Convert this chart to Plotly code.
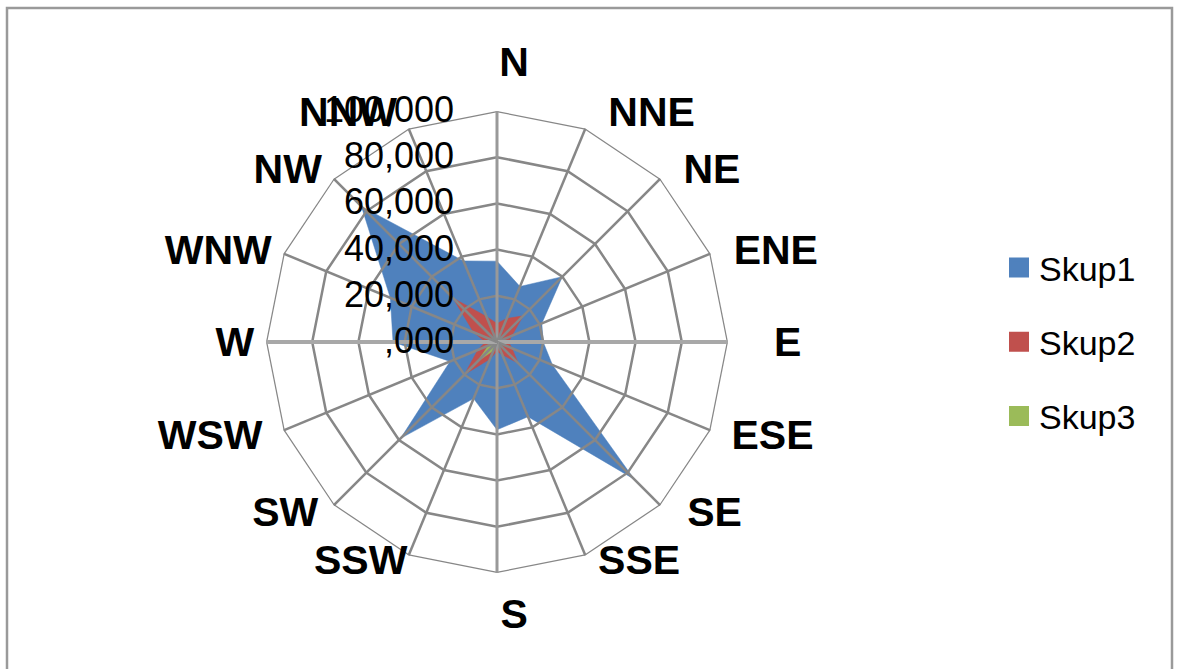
import plotly.graph_objects as go

# Wind directions, clockwise from north
directions = ["N", "NNE", "NE", "ENE", "E", "ESE", "SE", "SSE",
              "S", "SSW", "SW", "WSW", "W", "WNW", "NW", "NNW"]

skup1 = [35000, 26000, 40000, 21000, 20000, 26000, 84000, 35000,
         38000, 26500, 59000, 22000, 45000, 50000, 83000, 38000]
skup2 = [8000, 11000, 16000, 7000, 5000, 7000, 13000, 6000,
         4000, 8000, 20000, 9000, 5000, 11000, 27000, 12000]
skup3 = [1000, 800, 1000, 700, 600, 800, 1500, 800,
         1000, 4000, 12000, 4000, 1000, 800, 1500, 800]

series_names = ["Skup1", "Skup2", "Skup3"]
series_colors = ["#4F81BD", "#C0504D", "#9BBB59"]

ring_levels = [20000, 40000, 60000, 80000, 100000]
radial_tickvals = [0, 20000, 40000, 60000, 80000, 100000]
radial_ticktext = [",000", "20,000", "40,000", "60,000", "80,000", "100,000"]

# direction labels: (radius offset in px, directions), one layer each
label_layers = [
    (0, ["NNE", "NE", "ENE", "E", "W", "WNW", "NW", "NNW"]),
    (26, ["N"]),
    (13, ["S"]),
    (-27, ["ESE", "SE", "SSE", "SSW", "SW", "WSW"]),
]
# non-breaking spaces used to nudge each label sideways
label_pad = {"N": 3, "NNE": 2, "NE": 2, "ENE": 2, "E": 4, "ESE": 4, "SE": 4,
             "SSE": 2, "S": 3, "SSW": 1, "SW": 3, "WSW": 4, "W": 1,
             "WNW": 1, "NW": 1, "NNW": 1}
pad_before = {"N", "NNE", "NE", "ENE", "E", "ESE", "SE", "SSE", "S"}
NB = "\u00a0"


def label_text(d):
    return NB * label_pad[d] + d if d in pad_before else d + NB * label_pad[d]


W, H = 1181, 669
cx, cy, rad = 497, 342, 231
radial_label_lift = 7  # value labels sit a little above their rings

label_font = dict(size=41, family="Liberation Sans", color="black", weight="bold")


def domain_for(radius, dy=0):
    yc = H - cy + dy
    return dict(x=[(cx - radius) / W, (cx + radius) / W],
                y=[(yc - radius) / H, (yc + radius) / H])


closed = directions + directions[:1]

fig = go.Figure()

for name, vals, color in zip(series_names, [skup1, skup2, skup3], series_colors):
    fig.add_trace(go.Scatterpolar(
        r=vals + vals[:1], theta=closed, mode="lines",
        fill="toself", fillcolor=color,
        line=dict(color=color, width=0.5),
        name=name, showlegend=False, hoverinfo="skip",
    ))

grid_color = "#878787"

# polygon rings drawn over the filled areas
for lvl in ring_levels:
    fig.add_trace(go.Scatterpolar(
        r=[lvl] * len(closed), theta=closed, mode="lines",
        line=dict(color=grid_color, width=2.5),
        showlegend=False, hoverinfo="skip",
    ))

# spokes from centre to the outer ring
for d in directions:
    if d in ("E", "W"):
        col, wdt = "#A8A8A8", 4
    elif d in ("N", "S"):
        col, wdt = "#999999", 3
    else:
        col, wdt = grid_color, 2.5
    fig.add_trace(go.Scatterpolar(
        r=[0, ring_levels[-1]], theta=[d, d], mode="lines",
        line=dict(color=col, width=wdt),
        showlegend=False, hoverinfo="skip",
    ))

# legend keys: square swatches for each series
for name, color in zip(series_names, series_colors):
    fig.add_trace(go.Scatterpolar(
        r=[None], theta=[directions[0]], mode="markers",
        marker=dict(symbol="square", size=25, color=color,
                    line=dict(color=color, width=4)),
        name=name, legendgroup=name, showlegend=True, hoverinfo="skip",
    ))


def angular_axis(texts):
    return dict(
        type="category", categoryorder="array", categoryarray=directions,
        tickmode="array", tickvals=directions, ticktext=texts,
        direction="clockwise", rotation=90,
        showgrid=False, showline=False, ticks="",
        tickfont=label_font,
    )


layout_polars = {}
n_layers = 0
for i, (dr, dirs) in enumerate(label_layers):
    key = "polar" if i == 0 else f"polar{i + 1}"
    n_layers += 1
    texts = [label_text(d) if d in dirs else "" for d in directions]
    if i == 0:
        radial = dict(range=[0, 100000], angle=90, showticklabels=False,
                      showgrid=False, showline=False, ticks="")
        bg = "white"
    else:
        radial = dict(range=[0, 100000], angle=90, visible=False)
        bg = "rgba(0,0,0,0)"
        # label-only layer sharing the chart centre
        fig.add_trace(go.Scatterpolar(
            r=[None], theta=[directions[0]], mode="markers",
            subplot=key, showlegend=False, hoverinfo="skip",
        ))
    layout_polars[key] = dict(
        domain=domain_for(rad + dr), gridshape="linear", bgcolor=bg,
        radialaxis=radial, angularaxis=angular_axis(texts),
    )

# value labels of the radial axis
rkey = f"polar{n_layers + 1}"
fig.add_trace(go.Scatterpolar(
    r=[None], theta=[directions[0]], mode="markers",
    subplot=rkey, showlegend=False, hoverinfo="skip",
))
layout_polars[rkey] = dict(
    domain=domain_for(rad, radial_label_lift), gridshape="linear",
    bgcolor="rgba(0,0,0,0)",
    radialaxis=dict(
        range=[0, 100000], angle=90, side="counterclockwise",
        tickmode="array", tickvals=radial_tickvals, ticktext=radial_ticktext,
        showgrid=False, showline=False,
        ticks="outside", ticklen=10, tickcolor="rgba(0,0,0,0)",
        tickfont=dict(size=36, family="Liberation Sans", color="black"),
    ),
    angularaxis=angular_axis([""] * len(directions)),
)

fig.update_layout(
    width=W, height=H,
    margin=dict(l=0, r=0, t=0, b=0),
    paper_bgcolor="white",
    font=dict(family="Liberation Sans", color="black"),
    showlegend=True,
    legend=dict(
        x=999 / W, y=(H - cy) / H, xanchor="left", yanchor="middle",
        font=dict(size=34, family="Liberation Sans", color="black"),
        tracegroupgap=27, traceorder="grouped",
        bgcolor="rgba(0,0,0,0)",
    ),
    shapes=[dict(
        type="rect", xref="paper", yref="paper",
        x0=7 / W, x1=1172 / W, y0=-0.05, y1=(H - 8) / H,
        line=dict(color="#9A9A9A", width=2.5),
    )],
    **layout_polars,
)

fig.write_html("out.html")
